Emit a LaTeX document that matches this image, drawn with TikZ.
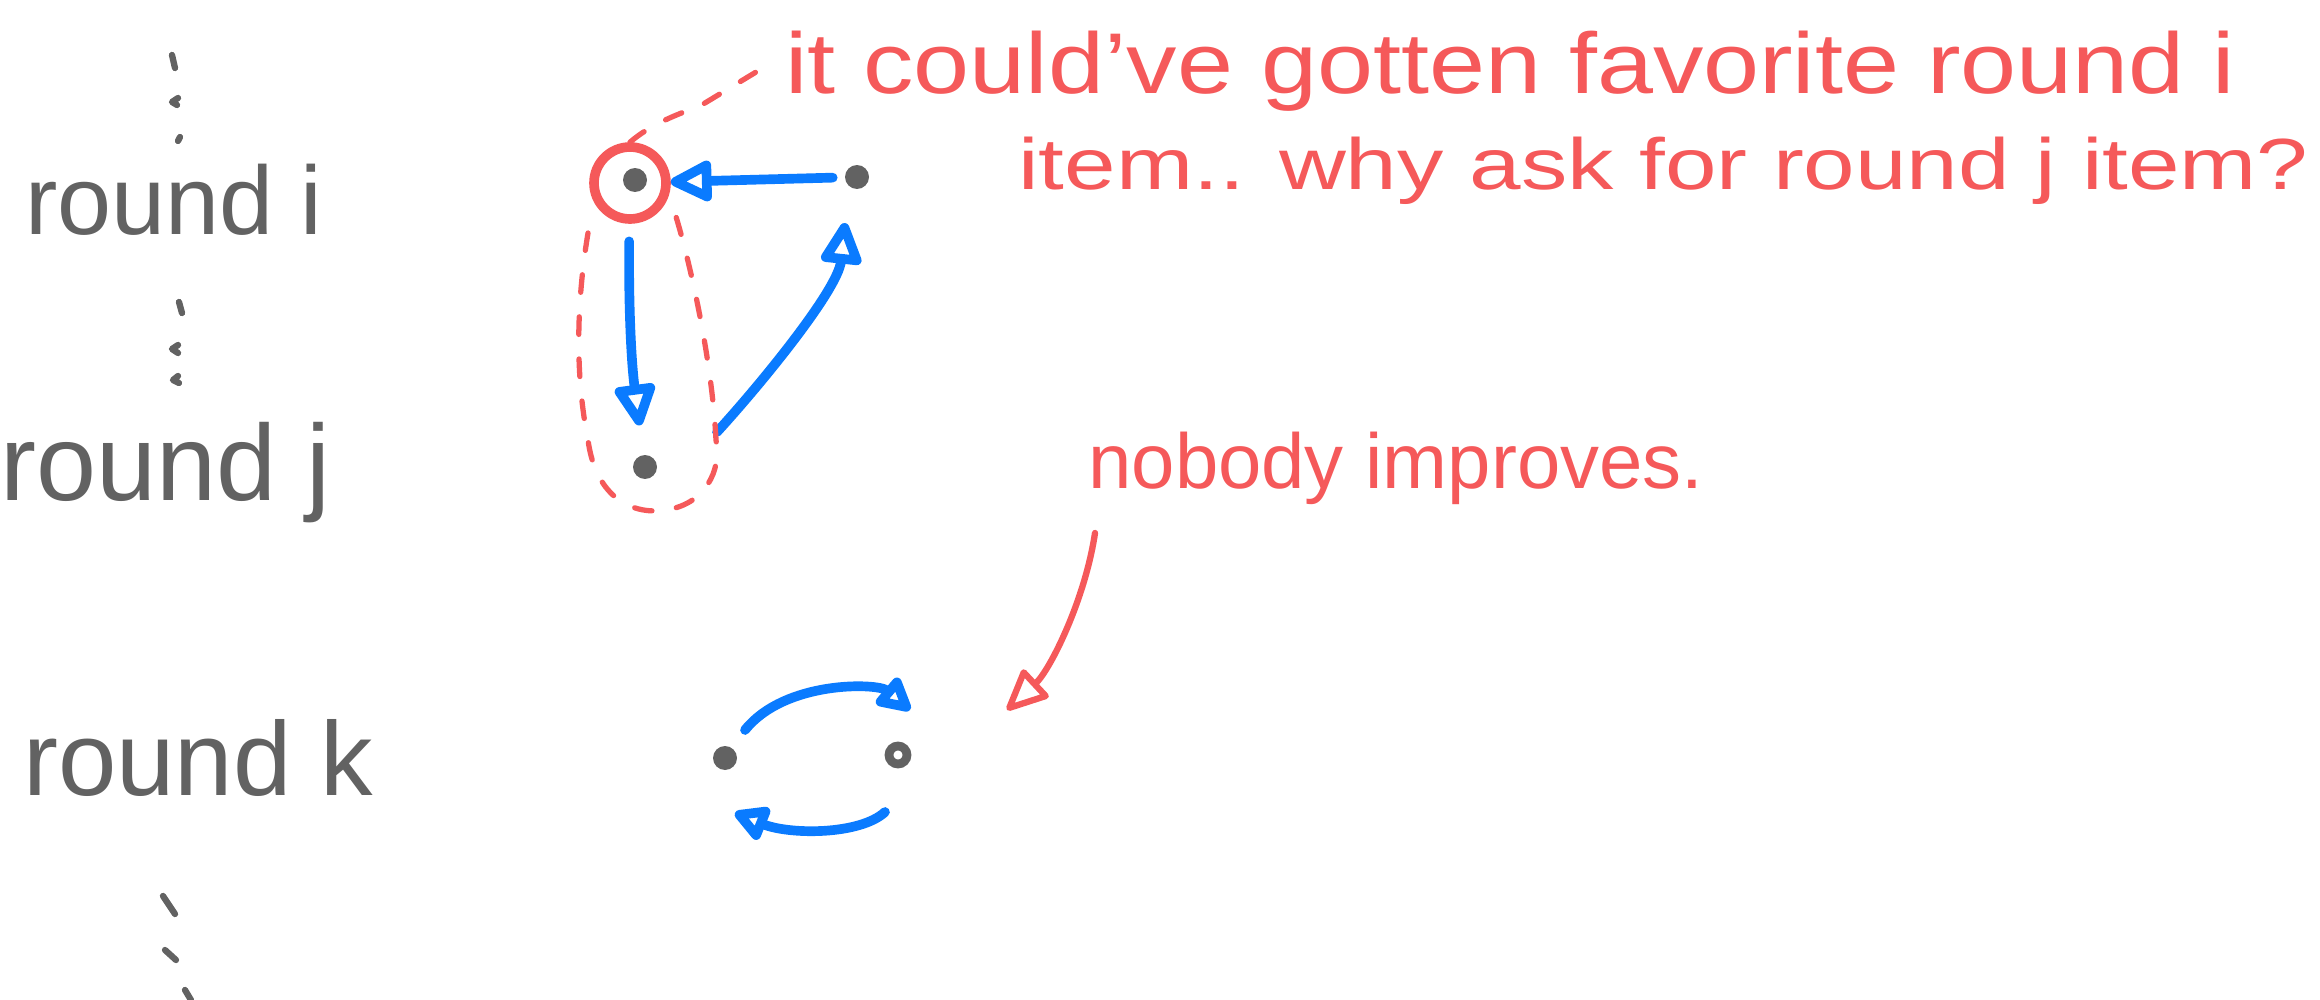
\documentclass[tikz,border=0pt]{standalone}
\usepackage{fontspec}
\setmainfont{Liberation Sans}
\usetikzlibrary{arrows.meta}
\definecolor{ink}{HTML}{626262}
\definecolor{rd}{HTML}{F5595A}
\definecolor{bl}{HTML}{0A7BFF}
\begin{document}
\begin{tikzpicture}[x=0.02cm,y=-0.02cm,
  dot/.style={circle,fill=ink,minimum size=0.48cm,inner sep=0pt,outer sep=0pt},
  ringdot/.style={circle,draw=ink,line width=5pt,fill=white,minimum size=0.36cm,inner sep=0pt,outer sep=0pt},
  barrow/.style={draw=bl,line width=5.5pt,line cap=round,line join=round,-{Triangle[open,round,length=27pt,width=25pt]}},
  sarrow/.style={barrow,-{Triangle[open,round,length=22pt,width=22pt]}},
  rarrow/.style={draw=rd,line width=3.6pt,line cap=round,line join=round,-{Triangle[open,round,length=26pt,width=23pt]}},
  lasso/.style={draw=rd,line width=3pt,line cap=round,dash pattern=on 10pt off 14pt},
  gdash/.style={draw=ink,line width=3.6pt,line cap=round,line join=round},
  lbl/.style={text=ink,inner sep=0pt,anchor=base west},
  note/.style={text=rd,inner sep=0pt,anchor=base west}]
\useasboundingbox (0,0) rectangle (2320,1000);

% left labels
\node[lbl] (ri) at (25,235) {\resizebox{5.94cm}{!}{round i}};
\node[lbl] (rj) at (0,500) {\resizebox{6.6cm}{!}{round j}};
\node[lbl] (rk) at (23,795) {\resizebox{7.0cm}{!}{round k}};

% vertical ellipses
\draw[gdash] (172,55) -- (175,68);
\draw[gdash] (178,98) -- (172,102) -- (177,105);
\draw[gdash] (180,137) -- (178,141);
\draw[gdash] (179,302) -- (182,313);
\draw[gdash] (178,345) -- (172,349) -- (178,353);
\draw[gdash] (178,376) -- (173,380) -- (179,383);
\draw[gdash] (163,896) -- (175,914);
\draw[gdash] (165,950) -- (176,960);
\draw[gdash] (185,990) -- (191,1000);

% notes
\node[note] (n1) at (785,94) {\resizebox{29cm}{1.25cm}{it could've gotten favorite round i}};
\node[note] (n2) at (1018,190) {\resizebox{25.8cm}{1.05cm}{item.. why ask for round j item?}};
\node[note] (n3) at (1088,488) {\resizebox{12.3cm}{!}{nobody improves.}};

% graph 1
\node[dot] (A) at (635,180) {};
\node[dot] (B) at (857,177) {};
\node[dot] (C) at (645,467) {};
\node[draw=rd,line width=5.5pt,circle,minimum size=1.44cm,inner sep=0pt] (Ac) at (630,183) {};

\draw[barrow,shorten <=7pt] (B) -- (Ac);
\draw[barrow,shorten <=10pt,shorten >=17pt] (Ac) to[bend right=4] (C);
\draw[barrow] ([shift={(72,-35)}]C.center) .. controls ([shift={(115,-82)}]C.center) and ([shift={(-19,113)}]B.center) .. ([shift={(-12,46)}]B.center);

% lasso
\draw[lasso] (588,233) .. controls (572,330) and (580,400) .. (588,440) .. controls (596,500) and (635,515) .. (665,510) .. controls (705,505) and (722,470) .. (716,440) .. controls (712,360) and (690,260) .. (673,207);
\draw[lasso] (Ac.north) .. controls (650,125) and (675,115) .. (700,106) -- ([shift={(-19,-28)}]n1.base west);

% graph 2
\node[dot] (D) at (725,758) {};
\node[ringdot] (E) at (898,755) {};
\draw[sarrow] ([shift={(20,-28)}]D.center) .. controls ([shift={(60,-78)}]D.center) and ([shift={(-20,-72)}]E.center) .. ([shift={(12,-45)}]E.center);
\draw[sarrow] ([shift={(-13,57)}]E.center) .. controls ([shift={(-38,80)}]E.center) and ([shift={(65,77)}]D.center) .. ([shift={(10,55)}]D.center);

% red arrow
\coordinate (tip) at (1007,710);
\draw[rarrow] ([shift={(7,45)}]n3.base west) .. controls ([shift={(-3,112)}]n3.base west) and ([shift={(43,-40)}]tip) .. (tip);
\end{tikzpicture}
\end{document}
